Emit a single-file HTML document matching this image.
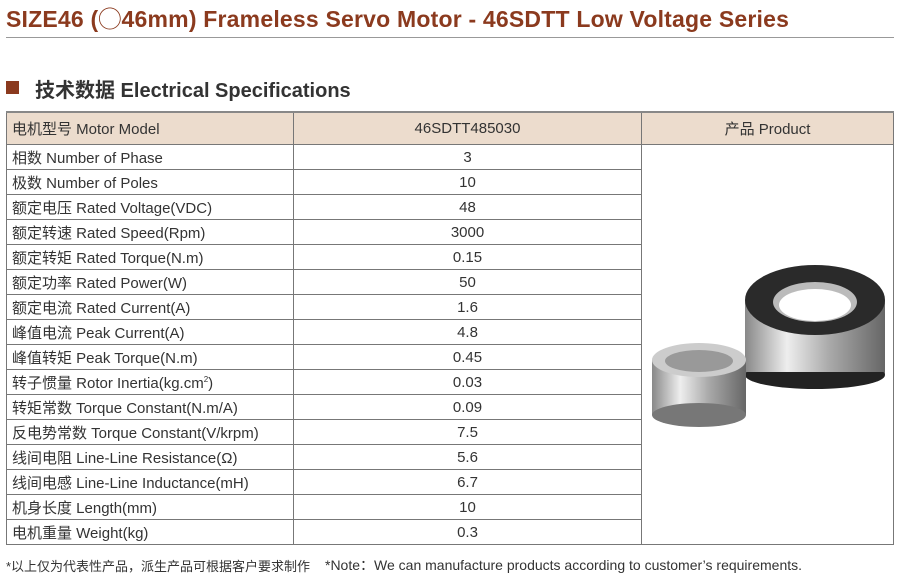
<!DOCTYPE html>
<html><head><meta charset="utf-8"><style>
body{margin:0;width:900px;height:578px;background:#fff;position:relative;overflow:hidden;font-family:"Liberation Sans","Noto Sans CJK SC",sans-serif;color:#333}
.t{position:absolute;left:6px;top:0;font-size:23px;font-weight:bold;color:#8b3a1e;white-space:nowrap;letter-spacing:0.2px}
.hl{position:absolute;left:6px;top:37px;width:888px;height:1px;background:#999}
.sq{position:absolute;left:6px;top:81px;width:13px;height:13px;background:#8b3a1e}
.h2{position:absolute;left:35px;top:74px;font-size:20px;font-weight:bold;color:#333;white-space:nowrap}
table{position:absolute;left:6px;top:111px;border-collapse:collapse;font-size:15px}
td{border:1px solid #777;height:24px;padding:0;white-space:nowrap}
tr.h td{background:#ecdccd;height:31px;border-top:2px solid #888}
td.a{width:287px;padding-left:5px;box-sizing:border-box}
td.b{width:347px;text-align:center}
td.c{width:251px;text-align:center}
.f{position:absolute;top:556px;font-size:13px;color:#333;white-space:nowrap}
</style></head><body>
<div class="t">SIZE46 (◯46mm) Frameless Servo Motor - 46SDTT Low Voltage Series</div>
<div class="hl"></div>
<div class="sq"></div>
<div class="h2">技术数据 Electrical Specifications</div>
<table>
<tr class="h"><td class="a">电机型号 Motor Model</td><td class="b">46SDTT485030</td><td class="c">产品 Product</td></tr>
<tr><td class="a">相数 Number of Phase</td><td class="b">3</td><td class="c" rowspan="16" style="border-bottom:1px solid #777"></td></tr>
<tr><td class="a">极数 Number of Poles</td><td class="b">10</td></tr>
<tr><td class="a">额定电压 Rated Voltage(VDC)</td><td class="b">48</td></tr>
<tr><td class="a">额定转速 Rated Speed(Rpm)</td><td class="b">3000</td></tr>
<tr><td class="a">额定转矩 Rated Torque(N.m)</td><td class="b">0.15</td></tr>
<tr><td class="a">额定功率 Rated Power(W)</td><td class="b">50</td></tr>
<tr><td class="a">额定电流 Rated Current(A)</td><td class="b">1.6</td></tr>
<tr><td class="a">峰值电流 Peak Current(A)</td><td class="b">4.8</td></tr>
<tr><td class="a">峰值转矩 Peak Torque(N.m)</td><td class="b">0.45</td></tr>
<tr><td class="a">转子惯量 Rotor Inertia(kg.cm<sup style="font-size:8px">2</sup>)</td><td class="b">0.03</td></tr>
<tr><td class="a">转矩常数 Torque Constant(N.m/A)</td><td class="b">0.09</td></tr>
<tr><td class="a">反电势常数 Torque Constant(V/krpm)</td><td class="b">7.5</td></tr>
<tr><td class="a">线间电阻 Line-Line Resistance(Ω)</td><td class="b">5.6</td></tr>
<tr><td class="a">线间电感 Line-Line Inductance(mH)</td><td class="b">6.7</td></tr>
<tr><td class="a">机身长度 Length(mm)</td><td class="b">10</td></tr>
<tr><td class="a">电机重量 Weight(kg)</td><td class="b">0.3</td></tr>
</table>
<svg style="position:absolute;left:640px;top:260px" width="260" height="180">
<defs><linearGradient id="m" x1="0" x2="1"><stop offset="0" stop-color="#888"/><stop offset=".3" stop-color="#eee"/><stop offset=".6" stop-color="#aaa"/><stop offset="1" stop-color="#666"/></linearGradient></defs>
<rect x="105" y="40" width="140" height="75" fill="url(#m)"/>
<ellipse cx="175" cy="115" rx="70" ry="14" fill="#222"/>
<rect x="105" y="40" width="140" height="72" fill="url(#m)"/>
<ellipse cx="175" cy="40" rx="70" ry="35" fill="#2a2a2a"/>
<ellipse cx="175" cy="42" rx="42" ry="20" fill="#bbb"/>
<ellipse cx="175" cy="45" rx="36" ry="16" fill="#fff"/>
<rect x="12" y="100" width="94" height="55" fill="url(#m)"/>
<ellipse cx="59" cy="155" rx="47" ry="12" fill="#777"/>
<ellipse cx="59" cy="100" rx="47" ry="17" fill="#ccc"/>
<ellipse cx="59" cy="101" rx="34" ry="11" fill="#999"/>
</svg>
<div class="f" style="left:6px">*以上仅为代表性产品，派生产品可根据客户要求制作</div>
<div class="f" style="left:325px;font-size:14px;top:555px">*Note：We can manufacture products according to customer’s requirements.</div>
</body></html>
